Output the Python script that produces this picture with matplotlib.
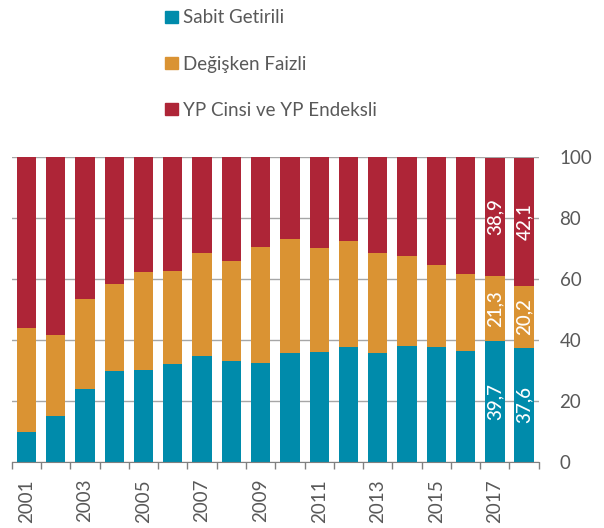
import numpy as np
import matplotlib.pyplot as plt
from matplotlib.patches import Patch

years = list(range(2001, 2019))
sabit = [9.9, 15.3, 24.2, 29.8, 30.4, 32.1, 35.0, 33.1, 32.7, 36.0,
         36.3, 37.8, 36.0, 38.3, 37.7, 36.6, 39.7, 37.6]
degisken = [34.3, 26.6, 29.4, 28.6, 31.9, 30.6, 33.6, 33.0, 38.0, 37.2,
            34.0, 34.8, 32.7, 29.4, 27.1, 25.0, 21.3, 20.2]
yp = [55.8, 58.1, 46.4, 41.6, 37.7, 37.3, 31.4, 33.9, 29.3, 26.8,
      29.7, 27.4, 31.3, 32.3, 35.2, 38.4, 38.9, 42.1]
labels = ['Sabit Getirili', 'Değişken Faizli', 'YP Cinsi ve YP Endeksli']
colors = ['#008BAB', '#DA9333', '#AE2537']
# only the last two years carry value labels
labelled = [16, 17]

plt.rcParams['font.family'] = ['Lato', 'DejaVu Sans']
txt = '#595959'

fig = plt.figure(figsize=(6.04, 5.28), dpi=100)
ax = fig.add_axes([0.0194, 0.1244, 0.8726, 0.5776])

x = np.arange(len(years))
s = np.array(sabit)
d = np.array(degisken)
r = np.array(yp)
w = 0.66
ax.bar(x, s, w, color=colors[0], zorder=2)
ax.bar(x, d, w, bottom=s, color=colors[1], zorder=2)
ax.bar(x, r, w, bottom=s + d, color=colors[2], zorder=2)

for i in labelled:
    for val, base in [(s[i], 0), (d[i], s[i]), (r[i], s[i] + d[i])]:
        ax.text(i, base + val / 2, f'{val:.1f}'.replace('.', ','),
                rotation=90, ha='center', va='center', color='white',
                fontsize=13.5, fontweight='medium', zorder=3)

ax.set_xlim(-0.5, len(years) - 0.5)
ax.set_ylim(0, 100)
ax.set_yticks(range(0, 101, 20))
ax.yaxis.tick_right()
ax.tick_params(axis='y', length=0, pad=15, labelsize=13.5, labelcolor=txt)
ax.grid(axis='y', color='#A6A6A6', linewidth=1, zorder=0)

ax.set_xticks(np.arange(-0.5, len(years), 1))
ax.set_xticklabels([])
ax.set_xticks(x[::2], minor=True)
ax.set_xticklabels([str(y) for y in years[::2]], minor=True, rotation=90,
                   fontsize=13.5, color=txt)
ax.tick_params(axis='x', which='major', length=5, color='#808080', width=1)
ax.tick_params(axis='x', which='minor', length=0, pad=12)

for sp in ['top', 'left', 'right']:
    ax.spines[sp].set_visible(False)
ax.spines['bottom'].set_color('#808080')

handles = [Patch(color=c, label=l) for c, l in zip(colors, labels)]
fig.legend(handles=handles, loc='upper left', bbox_to_anchor=(0.246, 1.014),
           frameon=False, fontsize=13.5, labelcolor=txt, labelspacing=1.55,
           handlelength=0.65, handleheight=0.65, handletextpad=0.3)

fig.savefig('out.png', dpi=100)
